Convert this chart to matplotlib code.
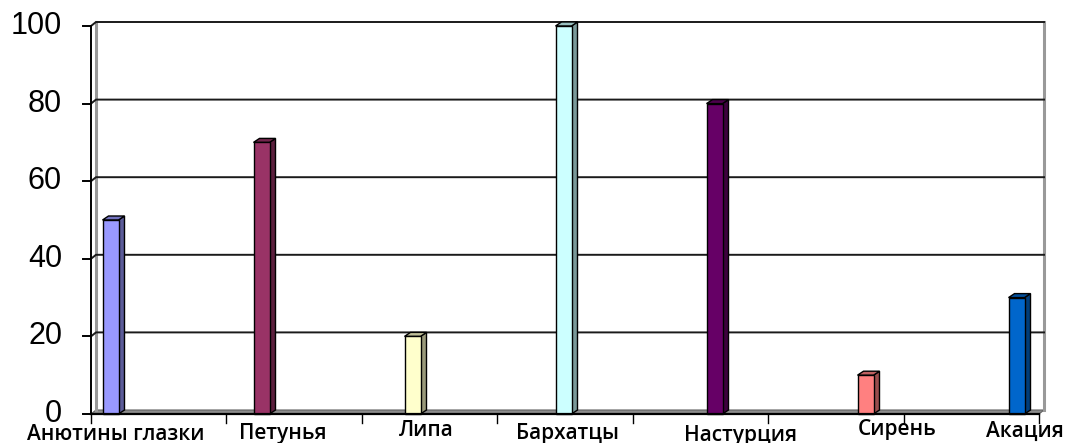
import matplotlib.pyplot as plt
from matplotlib.patches import Polygon
import numpy as np

# data
flowers = ['Анютины глазки', 'Петунья', 'Липа', 'Бархатцы', 'Настурция', 'Сирень', 'Акация']
values = [50, 70, 20, 100, 80, 10, 30]
colors = ['#9999FF', '#993366', '#FFFFCC', '#CCFFFF', '#660066', '#FF8080', '#0066CC']
yticks = [0, 20, 40, 60, 80, 100]

W, H = 1069, 443
fig = plt.figure(figsize=(W / 100, H / 100), dpi=100)
# axes: x 0..7 -> px 91..1039, y 0..100 -> px 414..26
x0, x1, y0, y1 = 91, 1039, 414, 26
ax = fig.add_axes([x0 / W, (H - y0) / H, (x1 - x0) / W, (y0 - y1) / H])
ax.set_xlim(0, 7)
ax.set_ylim(0, 100)
ax.axis('off')

pxx = (x1 - x0) / 7.0
pxy = (y0 - y1) / 100.0
# wall depth
wdx, wdy = 5 / pxx, 4 / pxy
# bar depth
bdx, bdy = 6 / pxx, 4 / pxy

n = len(flowers)

# floor
ax.add_patch(Polygon([(0, 0), (n, 0), (n + wdx, wdy), (wdx, wdy)], closed=True,
                     facecolor='#8c8c8c', edgecolor='#606060', lw=0.8, clip_on=False, zorder=1))
# walls edges
ax.plot([wdx, wdx], [wdy, 100 + wdy], color='#999999', lw=2.2, clip_on=False, zorder=1)
ax.plot([n + wdx, n + wdx], [wdy, 100 + wdy], color='#999999', lw=2.2, clip_on=False, zorder=1)

# gridlines on back wall
for v in yticks[1:]:
    ax.plot([0, wdx, n + wdx], [v, v + wdy, v + wdy], color='#1a1a1a', lw=1.4,
            clip_on=False, zorder=2)

# axes lines
ax.plot([0, 0], [0, 100], color='black', lw=1.4, clip_on=False, zorder=6)
ax.plot([0, n], [0, 0], color='black', lw=1.6, clip_on=False, zorder=6)
for v in yticks:
    ax.plot([-8 / pxx, 0], [v, v], color='black', lw=1.4, clip_on=False, zorder=6)
    ax.text(-29 / pxx, v, str(v), ha='right', va='center', fontsize=22,
            family='Liberation Sans', clip_on=False)
for i in range(n + 1):
    ax.plot([i, i], [0, -9 / pxy], color='black', lw=1.0, clip_on=False, zorder=6)


def shade(c, f):
    r, g, b = [int(c[k:k + 2], 16) / 255 for k in (1, 3, 5)]
    return (r * f, g * f, b * f)


# bars
bw = 16 / pxx
centers = (110.5 - x0) / pxx + np.arange(n) * 151 / pxx
for xc, v, c in zip(centers, values, colors):
    xl, xr = xc - bw / 2, xc + bw / 2
    ax.bar(xc, v, width=bw, color=c, edgecolor='black', lw=1.0, zorder=4, clip_on=False)
    ax.add_patch(Polygon([(xr, 0), (xr + bdx, bdy), (xr + bdx, v + bdy), (xr, v)], closed=True,
                         facecolor=shade(c, 0.6), edgecolor='black', lw=1.0, zorder=3, clip_on=False))
    ax.add_patch(Polygon([(xl, v), (xr, v), (xr + bdx, v + bdy), (xl + bdx, v + bdy)], closed=True,
                         facecolor=shade(c, 0.75), edgecolor='black', lw=1.0, zorder=3, clip_on=False))

# category labels
label_px = [116, 283, 426, 568, 740, 897, 1025]
label_top = [424, 423, 420, 423, 425, 419, 421]
for name, lx, ly in zip(flowers, label_px, label_top):
    ax.text((lx - x0) / pxx, (y0 - ly) / pxy, name, ha='center', va='top', fontsize=15,
            family=['Open Sans', 'DejaVu Sans'], fontweight='semibold', clip_on=False)

fig.savefig('out.png', dpi=100)
